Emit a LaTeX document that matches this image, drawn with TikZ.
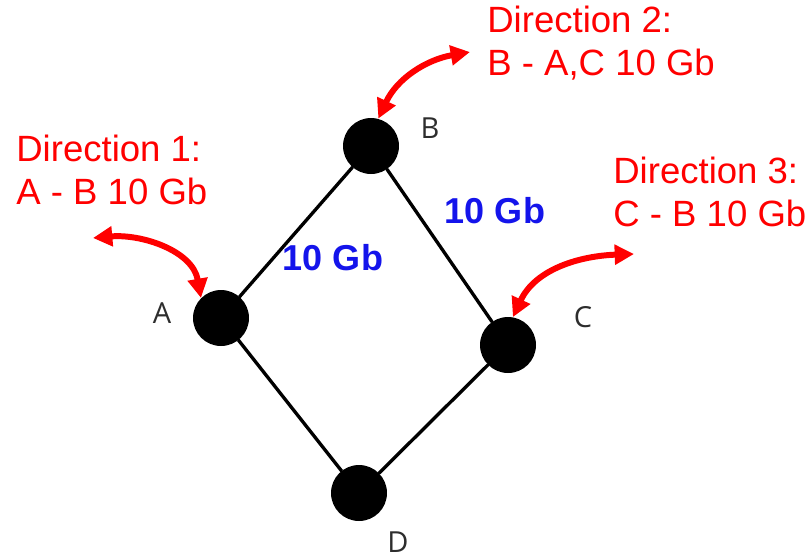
\documentclass[tikz,border=0pt]{standalone}
\usepackage{fontspec}
\setmainfont{Liberation Sans}
\newfontfamily\labelfont{Open Sans}
\usetikzlibrary{arrows.meta}
\definecolor{dirred}{RGB}{255,0,0}
\definecolor{linkblue}{RGB}{20,20,235}
\definecolor{labelgray}{RGB}{45,45,45}
\tikzset{
  router/.style={circle,fill=black,minimum size=1.12cm,inner sep=0pt},
  rlabel/.style={text=labelgray,font=\labelfont\fontsize{16.5}{18}\selectfont},
  dirtext/.style={text=dirred,align=left,inner sep=0pt,font=\fontsize{20.8}{24.2}\selectfont},
  speed/.style={text=linkblue,font=\bfseries\fontsize{20.5}{24}\selectfont},
  dirarrow/.style={dirred,line width=3.4pt,<->}
}
\begin{document}
\begin{tikzpicture}[x=0.02cm,y=-0.02cm,line cap=round,line join=round,>={Triangle[length=11pt,width=11pt]}]
			\useasboundingbox (0,0) rectangle (808,559);
			\node[router] (A) at (221,318) {};
			\node[router] (B) at (371,146) {};
			\node[router] (C) at (508,345) {};
			\node[router] (D) at (359,493) {};
			\node[rlabel] (labA) at (162,313) {A};
			\node[rlabel] (labB) at (430,128) {B};
			\node[rlabel] (labC) at (583,317) {C};
			\node[rlabel] (labD) at (398,542) {D};
			\draw[line width=1.9pt] (A)--(B)--(C)--(D)--(A);
			\node[speed] (sAB) at (333,258) {10 Gb};
			\node[speed] (sBC) at (495,211) {10 Gb};
			\node[dirtext,anchor=north west] (dir1) at (16,135) {Direction 1:\\A - B 10 Gb};
			\node[dirtext,anchor=north west] (dir2) at (487,6) {Direction 2:\\B - A,C 10 Gb};
			\node[dirtext,anchor=north west] (dir3) at (613,157) {Direction 3:\\C - B 10 Gb};
			\path (93,238)coordinate(e1) (470,52)coordinate(e2) (634,254)coordinate(e3);
			\draw[dirarrow] (e1) to[out=5,in=100] (A.north west);
			\draw[dirarrow] (e2) to[out=190,in=65] (B.75);
			\draw[dirarrow] (e3) to[out=182,in=65] (C.80);
		\end{tikzpicture}
\end{document}
